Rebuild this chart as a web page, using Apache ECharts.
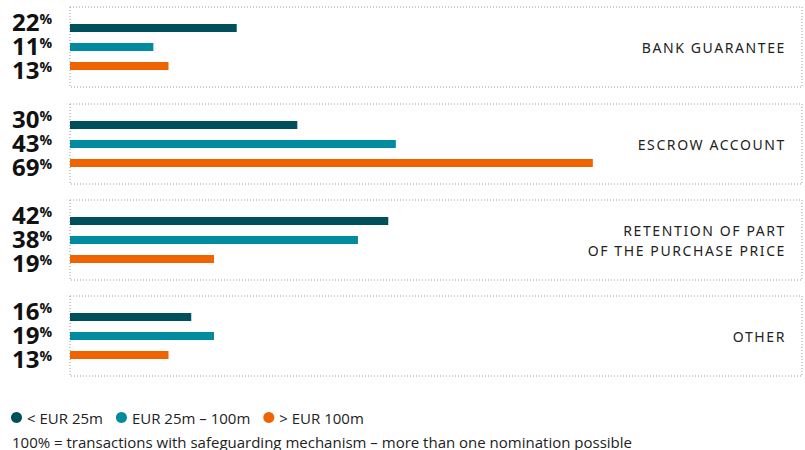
<!DOCTYPE html>
<html>
<head>
<meta charset="utf-8">
<script src="https://cdn.jsdelivr.net/npm/echarts@6/dist/echarts.min.js"></script>
<style>
  html, body { margin: 0; padding: 0; background: #fff; }
  #chart { width: 805px; height: 450px; }
  /* category names are spaced out a little */
  #chart text[style*="Noto Sans"] { letter-spacing: 1.6px; }
</style>
</head>
<body>
<div id="chart"></div>
<script>
const categories = ["BANK GUARANTEE", "ESCROW ACCOUNT", "RETENTION OF PART\nOF THE PURCHASE PRICE", "OTHER"];
const seriesNames = ["< EUR 25m", "EUR 25m \u2013 100m", "> EUR 100m"];
const small = [22, 30, 42, 16];
const medium = [11, 43, 38, 19];
const large = [13, 69, 19, 13];

const values = [small, medium, large];
const colors = ["#00505b", "#008b9f", "#ef6400"];
const labelShift = [-7, -2, 3];
const gridTops = [7, 104, 200, 296];

let myChart = echarts.init(document.getElementById("chart"), null, { renderer: "svg" });

let grids = [], xAxes = [], yAxes = [], series = [];
categories.forEach((cat, g) => {
  grids.push({
    left: 70, right: 3, top: gridTops[g], height: 80,
    show: true, borderColor: "#9a9a9a", borderWidth: 1, borderType: [1, 2]
  });
  xAxes.push({ type: "value", gridIndex: g, min: 0, max: 96.6, show: false });
  yAxes.push({
    type: "category", gridIndex: g, data: [cat], position: "right",
    axisLine: { show: false }, axisTick: { show: false },
    axisLabel: {
      inside: true, margin: 16, fontSize: 14, lineHeight: 20,
      color: "#222", fontFamily: "Noto Sans"
    }
  });
  for (let i = 0; i < 3; i++) {
    series.push({
      type: "bar", name: seriesNames[i], xAxisIndex: g, yAxisIndex: g,
      data: [values[i][g]], barWidth: 8, barGap: "137.5%",
      itemStyle: { color: colors[i] },
      animation: false,
      label: {
        show: true, position: [-18, 4 + labelShift[i]],
        align: "right", verticalAlign: "middle",
        formatter: (p) => "{n|" + p.value + "}{p|%}",
        rich: {
          n: { fontSize: 24, fontWeight: "bold", color: "#111", fontFamily: "Open Sans", lineHeight: 20 },
          p: { fontSize: 14, fontWeight: "bold", color: "#111", fontFamily: "Open Sans", verticalAlign: "top", lineHeight: 12 }
        }
      }
    });
  }
});

let option = {
  animation: false,
  title: {
    text: "100% = transactions with safeguarding mechanism \u2013 more than one nomination possible",
    left: 7, top: 429,
    textStyle: { fontSize: 15, fontWeight: "normal", color: "#222", fontFamily: "Open Sans" }
  },
  legend: {
    data: seriesNames, left: 6, top: 405,
    icon: "circle", itemWidth: 11, itemHeight: 11, itemGap: 13,
    textStyle: { fontSize: 15, color: "#222", fontFamily: "Open Sans" }
  },
  grid: grids,
  xAxis: xAxes,
  yAxis: yAxes,
  series: series
};
myChart.setOption(option);
</script>
</body>
</html>
